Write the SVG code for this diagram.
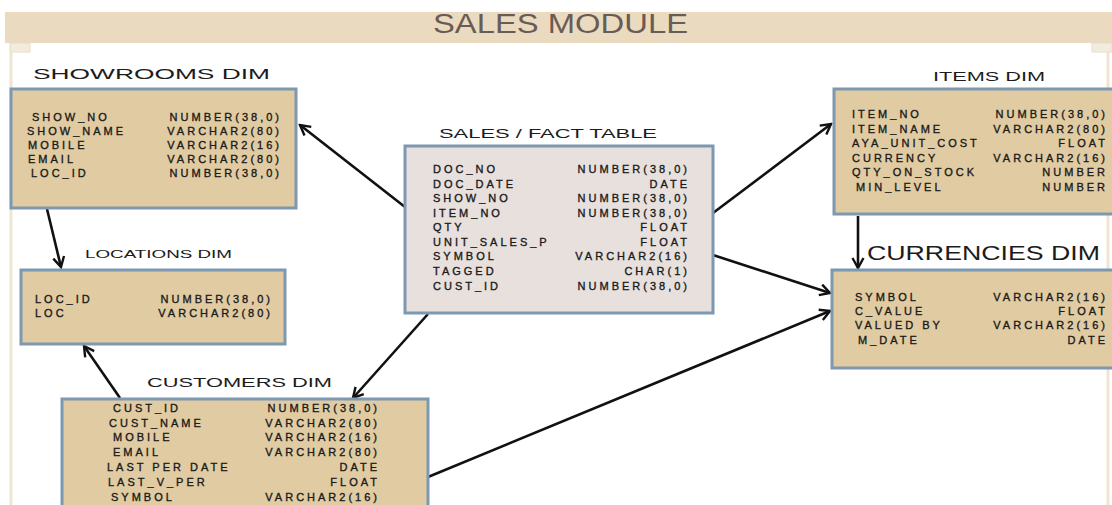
<svg xmlns="http://www.w3.org/2000/svg" width="1112" height="505" viewBox="0 0 1112 505">
  <style>
    .frame { fill: none; stroke: #efe5d3; stroke-width: 3; }
    .tab { fill: #f3ebdd; stroke: #e8dcc6; stroke-width: 1; }
    .dim { fill: #e0cba2; stroke: #7d98b1; stroke-width: 3; }
    .fact { fill: #e7e0dd; stroke: #7d98b1; stroke-width: 3; }
    .title { font-family: "Liberation Sans", Arial, sans-serif; font-size: 27px; fill: #6b5b55; }
    .lbl { font-family: "Liberation Sans", Arial, sans-serif; fill: #1c1c1c; }
    .r { font-family: "Liberation Sans", Arial, sans-serif; font-size: 11px; letter-spacing: 3px; fill: #1a1a1a; stroke: #1a1a1a; stroke-width: 0.35; }
    .e { text-anchor: end; }
    .link { fill: none; stroke: #111; stroke-width: 2.6; marker-end: url(#arr); }
  </style>
  <defs>
    <marker id="arr" viewBox="0 0 14 14" refX="12" refY="7" markerWidth="14" markerHeight="14" markerUnits="userSpaceOnUse" orient="auto">
      <path d="M2,1.5 L12,7 L2,12.5" fill="none" stroke="#111" stroke-width="2.4"/>
    </marker>
  </defs>

  <rect width="1112" height="505" fill="#ffffff"/>

  <!-- heading band and page frame -->
  <g id="banner">
    <rect x="5" y="12" width="1107" height="31" fill="#eadbc0"/>
    <rect class="tab" x="10" y="43" width="20" height="9"/>
    <rect class="tab" x="1092" y="43" width="20" height="9"/>
    <path class="frame" d="M11,52 V505 M1108,52 V505"/>
    <text class="title" x="433" y="33" textLength="255" lengthAdjust="spacingAndGlyphs">SALES MODULE</text>
  </g>

  <!-- connectors -->
  <g id="connectors">
    <line class="link" x1="405" y1="207" x2="300" y2="125"/>
    <line class="link" x1="713" y1="213" x2="831" y2="124"/>
    <line class="link" x1="713" y1="255" x2="830" y2="293"/>
    <line class="link" x1="428" y1="314" x2="353" y2="398"/>
    <line class="link" x1="47" y1="209" x2="61" y2="267"/>
    <line class="link" x1="120" y1="398" x2="84" y2="346"/>
    <line class="link" x1="858" y1="216" x2="858" y2="268"/>
    <line class="link" x1="428" y1="477" x2="830" y2="311"/>
  </g>

  <g id="showrooms">
    <text class="lbl" x="33" y="79" font-size="15" textLength="237" lengthAdjust="spacingAndGlyphs">SHOWROOMS DIM</text>
    <rect class="dim" x="11" y="89" width="285" height="119"/>
    <text class="r" x="32" y="121">SHOW_NO</text>
    <text class="r" x="27" y="135">SHOW_NAME</text>
    <text class="r" x="28" y="149">MOBILE</text>
    <text class="r" x="28" y="163">EMAIL</text>
    <text class="r" x="31" y="177">LOC_ID</text>
    <text class="r e" x="282" y="121">NUMBER(38,0)</text>
    <text class="r e" x="282" y="135">VARCHAR2(80)</text>
    <text class="r e" x="282" y="149">VARCHAR2(16)</text>
    <text class="r e" x="282" y="163">VARCHAR2(80)</text>
    <text class="r e" x="282" y="177">NUMBER(38,0)</text>
  </g>

  <g id="sales-fact">
    <text class="lbl" x="439" y="138" font-size="12" textLength="218" lengthAdjust="spacingAndGlyphs">SALES / FACT TABLE</text>
    <rect class="fact" x="405" y="146" width="308" height="167"/>
    <text class="r" x="433" y="173">DOC_NO</text>
    <text class="r" x="433" y="188">DOC_DATE</text>
    <text class="r" x="433" y="202">SHOW_NO</text>
    <text class="r" x="433" y="217">ITEM_NO</text>
    <text class="r" x="433" y="231">QTY</text>
    <text class="r" x="433" y="246">UNIT_SALES_P</text>
    <text class="r" x="433" y="260">SYMBOL</text>
    <text class="r" x="433" y="275">TAGGED</text>
    <text class="r" x="433" y="290">CUST_ID</text>
    <text class="r e" x="690" y="173">NUMBER(38,0)</text>
    <text class="r e" x="690" y="188">DATE</text>
    <text class="r e" x="690" y="202">NUMBER(38,0)</text>
    <text class="r e" x="690" y="217">NUMBER(38,0)</text>
    <text class="r e" x="690" y="231">FLOAT</text>
    <text class="r e" x="690" y="246">FLOAT</text>
    <text class="r e" x="690" y="260">VARCHAR2(16)</text>
    <text class="r e" x="690" y="275">CHAR(1)</text>
    <text class="r e" x="690" y="290">NUMBER(38,0)</text>
  </g>

  <g id="items">
    <text class="lbl" x="933" y="81" font-size="12" textLength="112" lengthAdjust="spacingAndGlyphs">ITEMS DIM</text>
    <rect class="dim" x="834" y="89" width="290" height="125"/>
    <text class="r" x="852" y="118">ITEM_NO</text>
    <text class="r" x="852" y="133">ITEM_NAME</text>
    <text class="r" x="852" y="147">AYA_UNIT_COST</text>
    <text class="r" x="852" y="162">CURRENCY</text>
    <text class="r" x="852" y="176">QTY_ON_STOCK</text>
    <text class="r" x="856" y="191">MIN_LEVEL</text>
    <text class="r e" x="1108" y="118">NUMBER(38,0)</text>
    <text class="r e" x="1108" y="133">VARCHAR2(80)</text>
    <text class="r e" x="1108" y="147">FLOAT</text>
    <text class="r e" x="1108" y="162">VARCHAR2(16)</text>
    <text class="r e" x="1108" y="176">NUMBER</text>
    <text class="r e" x="1108" y="191">NUMBER</text>
  </g>

  <g id="currencies">
    <text class="lbl" x="867" y="260" font-size="20" textLength="233" lengthAdjust="spacingAndGlyphs">CURRENCIES DIM</text>
    <rect class="dim" x="832" y="270" width="290" height="98"/>
    <text class="r" x="855" y="301">SYMBOL</text>
    <text class="r" x="855" y="315">C_VALUE</text>
    <text class="r" x="855" y="329">VALUED BY</text>
    <text class="r" x="858" y="344">M_DATE</text>
    <text class="r e" x="1108" y="301">VARCHAR2(16)</text>
    <text class="r e" x="1108" y="315">FLOAT</text>
    <text class="r e" x="1108" y="329">VARCHAR2(16)</text>
    <text class="r e" x="1108" y="344">DATE</text>
  </g>

  <g id="locations">
    <text class="lbl" x="85" y="258" font-size="11" textLength="147" lengthAdjust="spacingAndGlyphs">LOCATIONS DIM</text>
    <rect class="dim" x="21" y="270" width="264" height="74"/>
    <text class="r" x="35" y="303">LOC_ID</text>
    <text class="r" x="35" y="317">LOC</text>
    <text class="r e" x="273" y="303">NUMBER(38,0)</text>
    <text class="r e" x="273" y="317">VARCHAR2(80)</text>
  </g>

  <g id="customers">
    <text class="lbl" x="147" y="387" font-size="13" textLength="185" lengthAdjust="spacingAndGlyphs">CUSTOMERS DIM</text>
    <rect class="dim" x="62" y="399" width="366" height="112"/>
    <text class="r" x="113" y="412">CUST_ID</text>
    <text class="r" x="109" y="427">CUST_NAME</text>
    <text class="r" x="113" y="441">MOBILE</text>
    <text class="r" x="113" y="456">EMAIL</text>
    <text class="r" x="107" y="471">LAST PER DATE</text>
    <text class="r" x="108" y="486">LAST_V_PER</text>
    <text class="r" x="111" y="501">SYMBOL</text>
    <text class="r e" x="380" y="412">NUMBER(38,0)</text>
    <text class="r e" x="380" y="427">VARCHAR2(80)</text>
    <text class="r e" x="380" y="441">VARCHAR2(16)</text>
    <text class="r e" x="380" y="456">VARCHAR2(80)</text>
    <text class="r e" x="380" y="471">DATE</text>
    <text class="r e" x="380" y="486">FLOAT</text>
    <text class="r e" x="380" y="501">VARCHAR2(16)</text>
  </g>
</svg>
